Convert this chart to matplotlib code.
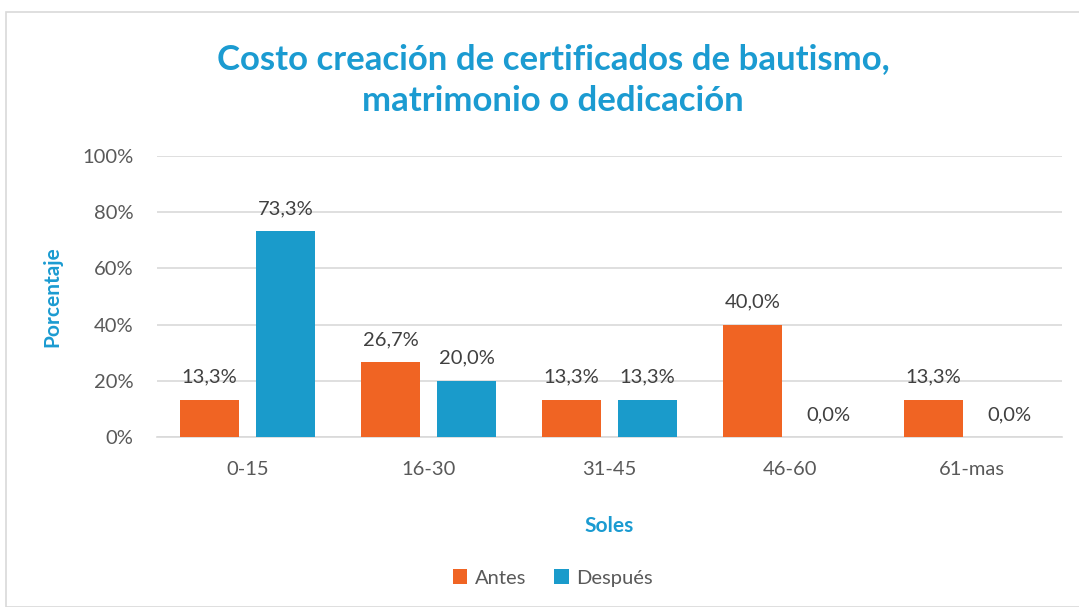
import matplotlib.pyplot as plt
import numpy as np
from matplotlib.patches import Rectangle

plt.rcParams['font.family'] = ['Lato', 'DejaVu Sans']

categorias = ['0-15', '16-30', '31-45', '46-60', '61-mas']
antes = [13.3, 26.7, 13.3, 40.0, 13.3]
despues = [73.3, 20.0, 13.3, 0.0, 0.0]

naranja = '#F06423'
azul = '#1A9BCB'
titulo_color = '#1B9BD1'
texto = '#595959'

fig = plt.figure(figsize=(10.79, 6.07), dpi=100)
fig.patches.append(Rectangle((6 / 1079, 0), 1.0, 1 - 12 / 607, transform=fig.transFigure,
                             fill=False, edgecolor='#D9D9D9', linewidth=1.2))
ax = fig.add_axes([157 / 1079, 1 - 437 / 607, 905 / 1079, 281 / 607])

x = np.arange(len(categorias))
w = 0.33
off = 0.21
b1 = ax.bar(x - off, antes, w, color=naranja, label='Antes', zorder=3)
b2 = ax.bar(x + off, despues, w, color=azul, label='Después', zorder=3)

for bars, vals in [(b1, antes), (b2, despues)]:
    for r, v in zip(bars, vals):
        ax.text(r.get_x() + r.get_width() / 2, v + 5, f'{v:.1f}%'.replace('.', ','),
                ha='center', va='bottom', fontsize=14.5, color='#404040')

ax.set_xlim(-0.5, len(categorias) - 0.5)
ax.set_ylim(0, 100)
ax.set_yticks(range(0, 101, 20))
ax.set_yticklabels([f'{t}%' for t in range(0, 101, 20)])
ax.set_xticks(x)
ax.set_xticklabels(categorias)
ax.tick_params(length=0, labelsize=14.5, labelcolor=texto)
ax.tick_params(axis='y', pad=17)
ax.tick_params(axis='x', pad=17)
ax.grid(axis='y', color='#D9D9D9', linewidth=1.2, zorder=0)
for s in ['top', 'right', 'left']:
    ax.spines[s].set_visible(False)
ax.spines['bottom'].set_color('#D9D9D9')
ax.spines['bottom'].set_linewidth(1.2)

ax.set_ylabel('Porcentaje', fontsize=15, fontweight='bold', color=titulo_color, labelpad=14)
ax.set_xlabel('Soles', fontsize=15, fontweight='bold', color=titulo_color, labelpad=28)

fig.text(553 / 1079, 1 - 80 / 607, 'Costo creación de certificados de bautismo,\nmatrimonio o dedicación',
         ha='center', va='center', fontsize=25, fontweight='bold', color=titulo_color, linespacing=1.35)

fig.legend(handles=[b1, b2], loc='center', bbox_to_anchor=(553 / 1079, 1 - 578 / 607), ncol=2,
           frameon=False, fontsize=14.5, handlelength=0.7, handleheight=0.7, columnspacing=1.4,
           handletextpad=0.4, labelcolor=texto)

fig.savefig('out.png', dpi=100)
